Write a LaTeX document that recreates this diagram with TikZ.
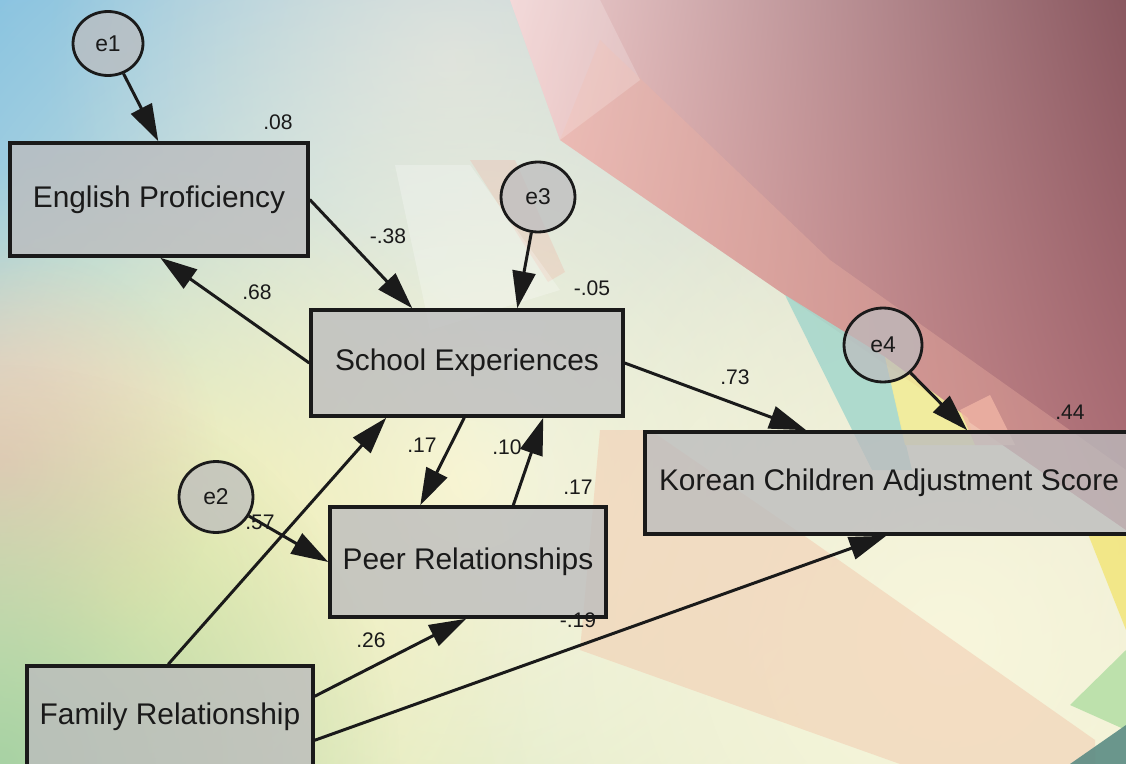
\documentclass[tikz,border=0pt]{standalone}
\usepackage{fontspec}
\setmainfont{Liberation Sans}
\usetikzlibrary{arrows.meta,shapes.geometric,fadings,shadings,calc}
\definecolor{bgUL}{HTML}{8CC6E2}
\definecolor{bgUR}{HTML}{DCD0D0}
\definecolor{bgLL}{HTML}{B4D8A8}
\definecolor{bgLR}{HTML}{F0F2D4}
\definecolor{bgblue}{HTML}{86C2E2}
\definecolor{bggray}{HTML}{DCDCDC}
\definecolor{bgcream}{HTML}{F8F6DC}
\definecolor{bgyellow}{HTML}{FBF3B2}
\definecolor{bgpink}{HTML}{F2C4B8}
\definecolor{bggreen}{HTML}{A8D2A4}
\definecolor{mUL}{HTML}{F0D0D0}
\definecolor{mUR}{HTML}{8A5860}
\definecolor{mLL}{HTML}{F0B0A8}
\definecolor{mLR}{HTML}{B07078}
\definecolor{tealp}{HTML}{A8D8CC}
\definecolor{yellp}{HTML}{F2EC98}
\definecolor{salm}{HTML}{F0B4A4}
\definecolor{peach}{HTML}{F2CBB0}
\definecolor{brYel}{HTML}{F2E680}
\definecolor{brGrn}{HTML}{B8E0A8}
\definecolor{brTeal}{HTML}{5C8C84}
\definecolor{boxgray}{HTML}{BCBCBE}
\definecolor{ink}{HTML}{1A1A1A}
\tikzfading[name=blob, inner color=transparent!0, outer color=transparent!100]
\begin{document}
\begin{tikzpicture}[x=0.02cm,y=-0.02cm,
  box/.style={rectangle, draw=ink, line width=2pt, fill=boxgray, fill opacity=0.78,
    text opacity=1, inner sep=0pt, font=\fontsize{17}{20}\selectfont, text=ink},
  err/.style={ellipse, draw=ink, line width=1.6pt, fill=boxgray, fill opacity=0.72,
    text opacity=1, inner sep=0pt, font=\fontsize{13}{15}\selectfont, text=ink},
  arr/.style={draw=ink, line width=1.7pt, -{Triangle[length=0.74cm,width=0.46cm]}},
  lbl/.style={inner sep=0pt, font=\fontsize{12}{14}\selectfont, text=ink}
]
\useasboundingbox (0,0) rectangle (1126,764);
\clip (0,0) rectangle (1126,764);
% ---------- background ----------
\shade[upper left=bgUL, upper right=bgUR, lower left=bgLL, lower right=bgLR] (0,0) rectangle (1126,764);
\fill[bgblue, path fading=blob] (0,120) circle (760);
\fill[bggray, path fading=blob, opacity=0.8] (450,60) circle (400);
\fill[bgcream, path fading=blob] (470,480) circle (700);
\fill[bgyellow, path fading=blob] (120,590) circle (440);
\fill[bgpink, path fading=blob, opacity=0.85] (0,465) circle (220);
\fill[bggreen, path fading=blob] (0,764) circle (400);
\fill[bgcream, path fading=blob] (950,640) circle (500);
% mauve region
\shade[upper left=mUL, upper right=mUR, lower left=mLL, lower right=mLR]
  (510,0) -- (1126,0) -- (1126,530) -- (560,140) -- cycle;
\fill[salm, opacity=0.35] (560,140) -- (600,40) -- (830,260) -- (1126,470) -- (1126,530) -- cycle;
\fill[white, opacity=0.2] (510,0) -- (600,0) -- (640,80) -- (560,140) -- cycle;
\fill[salm, opacity=0.3] (470,160) -- (515,160) -- (565,272) -- (548,282) -- cycle;
% teal / yellow / salmon pieces near e4
\fill[tealp, opacity=0.9] (785,295) -- (885,357) -- (912,470) -- (872,470) -- cycle;
\fill[yellp, opacity=0.9] (885,357) -- (968,418) -- (975,445) -- (905,445) -- cycle;
\fill[salm, opacity=0.8] (960,410) -- (990,395) -- (1015,445) -- (975,445) -- cycle;
% peach band
\fill[peach, opacity=0.55] (600,430) -- (650,430) -- (806,537) -- (1095,740) -- (1095,764)
  -- (900,764) -- (580,650) -- cycle;
% pale triangle upper centre
\fill[white, opacity=0.25] (395,165) -- (470,165) -- (560,290) -- (430,330) -- cycle;
% bottom-right bits
\fill[brYel, opacity=0.9] (1088,534) -- (1126,534) -- (1126,630) -- cycle;
\fill[brGrn, opacity=0.9] (1126,650) -- (1126,730) -- (1070,705) -- cycle;
\fill[brTeal, opacity=0.9] (1070,764) -- (1126,725) -- (1126,764) -- cycle;
% ---------- nodes ----------
\node[box, minimum width=5.96cm, minimum height=2.26cm] (ep) at (159,199.5) {English Proficiency};
\node[box, minimum width=6.24cm, minimum height=2.12cm] (se) at (467,363) {School Experiences};
\node[box, minimum width=5.52cm, minimum height=2.20cm] (pr) at (468,562) {Peer Relationships};
\node[box, minimum width=9.76cm, minimum height=2.04cm] (kc) at (889,483) {Korean Children Adjustment Score};
\node[box, minimum width=5.72cm, minimum height=2.04cm] (fr) at (170,717) {Family Relationship};
\node[err, minimum width=1.40cm, minimum height=1.28cm] (e1) at (108,43.5) {e1};
\node[err, minimum width=1.48cm, minimum height=1.40cm] (e3) at (538,197) {e3};
\node[err, minimum width=1.48cm, minimum height=1.42cm] (e2) at (216,497) {e2};
\node[err, minimum width=1.56cm, minimum height=1.48cm] (e4) at (883,345) {e4};
% ---------- connectors ----------
\draw[arr] (e1) -- ($(ep.north west)+(150,0)$);
\draw[arr] (ep.east) -- ($(se.north west)+(103,0)$);
\draw[arr] (se.west) -- ($(ep.south west)+(152,0)$);
\draw[arr] (e3) -- ($(se.north west)+(208,0)$);
\draw[arr] (se.east) -- ($(kc.north west)+(163,0)$);
\draw[arr] (e4) -- ($(kc.north west)+(324,0)$);
\draw[arr] ($(se.south west)+(155,0)$) -- ($(pr.north west)+(92,0)$);
\draw[arr] ($(pr.north west)+(185,0)$) -- ($(se.south west)+(234,0)$);
\draw[arr] (e2) -- (pr.west);
\draw[arr] ($(fr.north west)+(143,0)$) -- ($(se.south west)+(77,0)$);
\draw[arr] ($(fr.north east)+(0,32)$) -- ($(pr.south west)+(138,0)$);
\draw[arr] ($(fr.north east)+(0,76)$) -- ($(kc.south west)+(243,0)$);
% ---------- labels ----------
\node[lbl] (l08) at (278,122) {.08};
\node[lbl] (l38) at (388,236) {-.38};
\node[lbl] (l68) at (257,292) {.68};
\node[lbl] (l05) at (592,288) {-.05};
\node[lbl] (l73) at (735,377) {.73};
\node[lbl] (l44) at (1070,412) {.44};
\node[lbl] (l17a) at (422,445) {.17};
\node[lbl] (l10) at (507,447) {.10};
\node[lbl] (l17b) at (578,487) {.17};
\node[lbl] (l57) at (260,522) {.57};
\node[lbl] (l26) at (371,640) {.26};
\node[lbl] (l19) at (578,620) {-.19};
\end{tikzpicture}
\end{document}
